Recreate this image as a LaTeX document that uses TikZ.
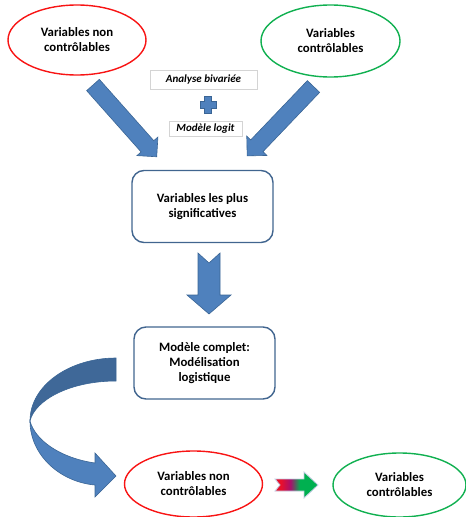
\documentclass[tikz,border=0pt]{standalone}
\usepackage{fontspec}
\setmainfont{Carlito}
\usetikzlibrary{shapes.geometric}

\definecolor{arrowblue}{HTML}{4F81BD}
\definecolor{arrowedge}{HTML}{3A6595}
\definecolor{bandblue}{HTML}{3F6898}
\definecolor{stageblue}{HTML}{41658F}
\definecolor{ovalred}{HTML}{F81414}
\definecolor{ovalgreen}{HTML}{10B050}
\definecolor{gradred}{HTML}{E8102C}
\definecolor{gradmag}{HTML}{A8106C}
\definecolor{gradgreen}{HTML}{00B050}
\definecolor{gradedge}{HTML}{C4CDE4}
\pgfdeclarehorizontalshading{redtogreen}{100bp}{color(0bp)=(gradred); color(32bp)=(gradred); color(43bp)=(gradmag); color(54bp)=(gradgreen); color(100bp)=(gradgreen)}

\begin{document}
\begin{tikzpicture}[x=1pt, y=-1pt, font=\fontsize{12.8}{15}\selectfont\bfseries,
	oval/.style={ellipse, draw, line width=1.4pt, inner sep=0pt, align=center, minimum width=138pt, minimum height=70pt},
	tag/.style={draw=black!17, line width=0.6pt, inner sep=0pt, font=\fontsize{11}{12}\selectfont\bfseries\itshape},
	stage/.style={draw=stageblue, line width=1.4pt, rounded corners=12pt, align=center, minimum width=141pt, minimum height=72pt},
	blockarrow/.style={fill=arrowblue, draw=arrowedge, line width=0.6pt}]
	\useasboundingbox (0,0) rectangle (466,517);

	% inputs
	\node[oval, draw=ovalred] (nonctrl) at (77,40) {Variables non\\contrôlables};
	\node[oval, draw=ovalgreen, minimum width=139pt, minimum height=72pt] (ctrl) at (330.5,41) {Variables\\contrôlables};
	\node[tag, minimum width=107pt, minimum height=19pt] (bivar) at (203.5,79.5) {Analyse bivariée};
	\node[tag, minimum width=73pt, minimum height=15pt] (logit) at (205.5,128.5) {Modèle logit};

	% steps
	\node[stage] (signif) at (202.5,206.5) {Variables les plus\\significatives};
	\node[stage] (complet) at (204.5,363) {Modèle complet:\\Modélisation\\logistique};

	% outputs
	\node[oval, draw=ovalred, minimum height=66pt] (nonctrlB) at (193.5,484) {Variables non\\contrôlables};
	\node[oval, draw=ovalgreen, minimum width=133pt, minimum height=64pt] (ctrlB) at (399.5,485) {Variables\\contrôlables};

	% block arrows
	\coordinate (fromNon) at (93,85);
	\coordinate (fromCtrl) at (313.5,86.5);
	\coordinate (belowSignif) at (209,253);
	\draw[blockarrow, rotate around={-48.4:(fromNon)}] (fromNon) ++(0,-8.5) -- ++(82,0) -- ++(0,-5.5) -- ++(14,14) -- ++(-14,14) -- ++(0,-5.5) -- ++(-82,0) -- cycle;
	\draw[blockarrow, rotate around={226.3:(fromCtrl)}] (fromCtrl) ++(0,-8.5) -- ++(82,0) -- ++(0,-5.5) -- ++(14,14) -- ++(-14,14) -- ++(0,-5.5) -- ++(-82,0) -- cycle;
	\draw[blockarrow] (204.5,96) -- ++(7,0) -- ++(0,5) -- ++(4.5,0) -- ++(0,7) -- ++(-4.5,0) -- ++(0,5) -- ++(-7,0) -- ++(0,-5) -- ++(-4.5,0) -- ++(0,-7) -- ++(4.5,0) -- cycle;
	\draw[blockarrow] (belowSignif) ++(-11,0) -- ++(11,10) -- ++(11,-10) -- ++(0,42) -- ++(11,0) -- ++(-22,19) -- ++(-22,-19) -- ++(11,0) -- cycle;

	% curved arrow
	\draw[fill=bandblue, draw=arrowedge, line width=0.6pt] (116,358) .. controls (70,358) and (30,385) .. (30,421) .. controls (35,400) and (70,381) .. (116,381) -- cycle;
	\draw[blockarrow] (30,421) .. controls (30,455) and (60,482) .. (95,485) -- (95,497) -- (116,476) -- (95,453) -- (95,463) .. controls (60,458) and (35,440) .. (30,421) -- cycle;

	% gradient arrow
	\shadedraw[shading=redtogreen, draw=gradedge, line width=0.8pt] (275,479) -- (304,479) -- (304,472) -- (318,485) -- (304,498) -- (304,491) -- (275,491) -- (280,485) -- cycle;
\end{tikzpicture}
\end{document}
